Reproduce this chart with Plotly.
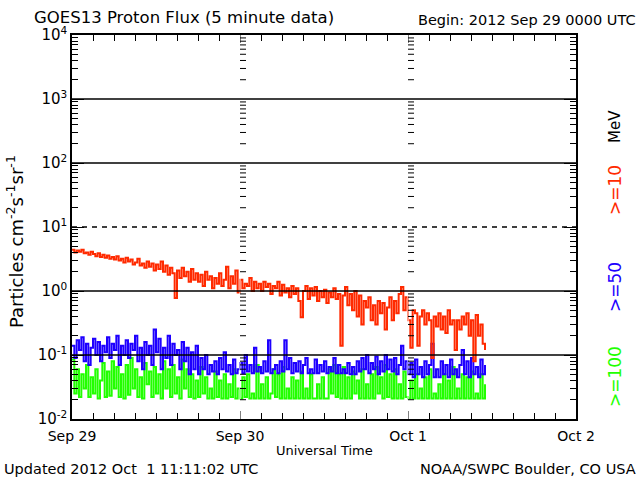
import pandas as pd
import plotly.graph_objects as go

# ---------------- data ----------------
start_time = "2012-09-29 00:00"
sample_step = "20min"

flux_ge10 = [
    4.4, 4.0, 4.3, 4.1, 4.4, 3.9, 4.0, 3.7, 4.1, 3.8, 3.5, 3.9,
    3.4, 3.7, 3.3, 3.6, 3.2, 3.4, 3.1, 3.5, 3.0, 3.2, 2.8, 3.3,
    2.9, 3.1, 2.6, 2.8, 3.2, 2.5, 2.7, 2.3, 2.9, 2.4, 2.7, 2.1,
    2.6, 2.2, 2.9, 2.0, 2.5, 1.8, 2.3, 1.9, 0.78, 2.1, 1.6, 2.3,
    1.7, 2.0, 1.4, 2.2, 1.5, 1.9, 1.4, 1.8, 1.2, 2.0, 1.5, 1.7,
    1.1, 1.6, 1.3, 1.9, 1.2, 1.5, 2.4, 1.1, 1.7, 1.3, 2.1, 0.95,
    1.5, 1.1, 1.3, 1.2, 1.6, 1.0, 1.4, 1.1, 1.3, 1.0, 1.4, 1.15,
    1.3, 0.9, 1.2, 1.1, 1.4, 0.85, 1.25, 0.95, 1.1, 0.8, 1.2, 0.9,
    1.1, 0.7, 0.39, 1.0, 1.2, 0.75, 1.1, 0.85, 1.15, 0.7, 1.0, 0.8,
    1.05, 0.65, 0.95, 0.8, 1.1, 0.75, 0.9, 0.14, 0.85, 1.15, 0.6, 0.9,
    0.5, 1.0, 0.4, 0.85, 0.3, 0.7, 0.55, 0.8, 0.35, 0.6, 0.3, 0.7,
    0.45, 0.65, 0.25, 0.55, 0.8, 0.35, 0.7, 0.45, 0.9, 1.15, 0.5, 0.8,
    0.35, 0.13, 0.5, 0.45, 0.14, 0.4, 0.5, 0.3, 0.45, 0.35, 0.09, 0.4,
    0.28, 0.45, 0.25, 0.4, 0.22, 0.5, 0.3, 0.35, 0.12, 0.35, 0.25, 0.4,
    0.3, 0.45, 0.2, 0.35, 0.08, 0.42, 0.2, 0.3, 0.15, 0.12,
]

flux_ge50 = [
    0.14, 0.09, 0.17, 0.12, 0.19, 0.08, 0.15, 0.07, 0.13, 0.18, 0.1, 0.16,
    0.08, 0.14, 0.11, 0.19, 0.09, 0.15, 0.12, 0.2, 0.07, 0.14, 0.1, 0.17,
    0.09, 0.15, 0.12, 0.2, 0.08, 0.13, 0.06, 0.16, 0.1, 0.14, 0.07, 0.25,
    0.11, 0.18, 0.06, 0.13, 0.09, 0.2, 0.07, 0.15, 0.1, 0.12, 0.06, 0.16,
    0.08, 0.13, 0.05, 0.11, 0.06, 0.14, 0.05, 0.09, 0.06, 0.1, 0.05, 0.07,
    0.055, 0.08, 0.05, 0.09, 0.06, 0.11, 0.055, 0.07, 0.05, 0.085, 0.052, 0.06,
    0.075, 0.052, 0.1, 0.055, 0.07, 0.052, 0.13, 0.055, 0.065, 0.052, 0.08, 0.055,
    0.17, 0.052, 0.06, 0.07, 0.052, 0.08, 0.055, 0.17, 0.06, 0.09, 0.052, 0.075,
    0.055, 0.08, 0.052, 0.07, 0.09, 0.052, 0.06, 0.052, 0.085, 0.052, 0.07, 0.055,
    0.08, 0.052, 0.065, 0.055, 0.09, 0.052, 0.07, 0.052, 0.06, 0.052, 0.075, 0.05,
    0.065, 0.05, 0.08, 0.055, 0.09, 0.06, 0.1, 0.052, 0.075, 0.06, 0.095, 0.05,
    0.08, 0.055, 0.1, 0.06, 0.085, 0.055, 0.09, 0.05, 0.07, 0.14, 0.06, 0.08,
    0.05, 0.075, 0.045, 0.085, 0.05, 0.065, 0.045, 0.08, 0.05, 0.07, 0.15, 0.045,
    0.06, 0.045, 0.08, 0.05, 0.07, 0.045, 0.085, 0.05, 0.06, 0.045, 0.07, 0.12,
    0.05, 0.08, 0.045, 0.09, 0.05, 0.065, 0.045, 0.085, 0.05, 0.07,
]

flux_ge100 = [
    0.085, 0.025, 0.06, 0.022, 0.05, 0.03, 0.07, 0.022, 0.045, 0.025, 0.06, 0.021,
    0.04, 0.075, 0.022, 0.055, 0.023, 0.08, 0.03, 0.065, 0.022, 0.05, 0.021, 0.07,
    0.024, 0.09, 0.03, 0.06, 0.022, 0.045, 0.021, 0.075, 0.035, 0.055, 0.022, 0.065,
    0.025, 0.05, 0.021, 0.08, 0.03, 0.06, 0.022, 0.07, 0.025, 0.045, 0.021, 0.085,
    0.03, 0.06, 0.022, 0.05, 0.021, 0.04, 0.022, 0.065, 0.025, 0.045, 0.021, 0.03,
    0.021, 0.055, 0.022, 0.04, 0.021, 0.05, 0.021, 0.035, 0.022, 0.06, 0.021, 0.03,
    0.021, 0.045, 0.022, 0.05, 0.021, 0.025, 0.021, 0.07, 0.021, 0.035, 0.021, 0.045,
    0.021, 0.025, 0.06, 0.022, 0.05, 0.021, 0.065, 0.021, 0.03, 0.021, 0.045, 0.021,
    0.04, 0.021, 0.055, 0.021, 0.03, 0.021, 0.05, 0.021, 0.021, 0.035, 0.021, 0.045,
    0.021, 0.021, 0.06, 0.025, 0.07, 0.022, 0.05, 0.021, 0.065, 0.021, 0.045, 0.021,
    0.055, 0.025, 0.04, 0.021, 0.06, 0.021, 0.035, 0.021, 0.05, 0.021, 0.065, 0.025,
    0.045, 0.021, 0.07, 0.022, 0.05, 0.021, 0.06, 0.021, 0.035, 0.021, 0.055, 0.022,
    0.021, 0.04, 0.021, 0.05, 0.021, 0.03, 0.021, 0.045, 0.021, 0.06, 0.021, 0.025,
    0.021, 0.035, 0.021, 0.05, 0.021, 0.04, 0.021, 0.065, 0.021, 0.03, 0.021, 0.05,
    0.021, 0.045, 0.021, 0.055, 0.021, 0.025, 0.021, 0.05, 0.021, 0.035,
]

day_ticks = ["2012-09-29", "2012-09-30", "2012-10-01", "2012-10-02"]
day_labels = ["Sep 29", "Sep 30", "Oct 1", "Oct 2"]
decades = [1e-2, 1e-1, 1e0, 1e1, 1e2, 1e3, 1e4]
decade_labels = ["10<sup>-2</sup>", "10<sup>-1</sup>", "10<sup>0</sup>", "10<sup>1</sup>",
                 "10<sup>2</sup>", "10<sup>3</sup>", "10<sup>4</sup>"]
solid_levels = [1e3, 1e2, 1e0, 1e-1]
dashed_levels = [1e1]

# ---------------- figure ----------------
times = pd.date_range(start_time, periods=len(flux_ge10), freq=sample_step)

RED, BLUE, GREEN = "#ff2a00", "#1e00ff", "#22ff00"
FONT = "DejaVu Sans"

fig = go.Figure()
for ys, col in [(flux_ge100, GREEN), (flux_ge50, BLUE), (flux_ge10, RED)]:
    fig.add_trace(go.Scatter(x=times, y=ys, mode="lines", line=dict(color=col, width=2, shape="hv"),
                             showlegend=False, hoverinfo="skip"))

minor_vals = [d * k for d in decades[:-1] for k in range(2, 10)]

L, R, T, B = 72, 64, 35, 61
W, H = 640, 480
pw, ph = W - L - R, H - T - B


def px(xp):
    return (xp - L) / pw


def py(yp):
    return (H - B - yp) / ph


fig.update_layout(
    width=W, height=H,
    margin=dict(l=L, r=R, t=T, b=B, autoexpand=False),
    paper_bgcolor="white", plot_bgcolor="white",
    font=dict(family=FONT, color="black", size=13),
    xaxis=dict(
        range=[day_ticks[0], day_ticks[-1]],
        tickvals=day_ticks, ticktext=day_labels,
        ticks="inside", ticklen=8, tickwidth=1, tickcolor="black",
        minor=dict(dtick=3 * 3600 * 1000, ticks="inside", ticklen=6, tickcolor="black", tickwidth=1, showgrid=False),
        showgrid=False, zeroline=False,
        showline=True, linecolor="black", linewidth=1.5, mirror="ticks",
        tickfont=dict(size=14), ticklabelstandoff=3,
    ),
    yaxis=dict(
        type="log", range=[-2, 4],
        tickvals=decades, ticktext=decade_labels,
        ticks="inside", ticklen=12, tickwidth=1, tickcolor="black",
        minor=dict(tickvals=minor_vals, ticks="inside", ticklen=6, tickcolor="black", tickwidth=1, showgrid=False),
        showgrid=False, zeroline=False,
        showline=True, linecolor="black", linewidth=1.5, mirror="ticks",
        tickfont=dict(size=15),
    ),
)

shapes = []
# white separators at day boundaries
for d in day_ticks[1:3]:
    shapes.append(dict(type="line", xref="x", yref="paper", x0=d, x1=d, y0=0, y1=1,
                       line=dict(color="white", width=1), layer="above"))
for lv in solid_levels:
    shapes.append(dict(type="line", xref="paper", yref="y", x0=0, x1=1, y0=lv, y1=lv,
                       line=dict(color="black", width=1.3), layer="above"))
for lv in dashed_levels:
    shapes.append(dict(type="line", xref="paper", yref="y", x0=0, x1=1, y0=lv, y1=lv,
                       line=dict(color="black", width=1.3, dash="5px,5px"), layer="above"))
# minor tick ladders at the day boundaries
for d in day_ticks[1:3]:
    for mv in minor_vals:
        shapes.append(dict(type="line", xref="x", yref="y", xsizemode="pixel", xanchor=d,
                           x0=0, x1=6, y0=mv, y1=mv, line=dict(color="black", width=1), layer="above"))
fig.update_layout(shapes=shapes)

ann = [
    dict(text="GOES13 Proton Flux (5 minute data)", x=px(32), y=py(17), xanchor="left", yanchor="middle",
         font=dict(size=16.5)),
    dict(text="Begin: 2012 Sep 29 0000 UTC", x=px(638), y=py(20), xanchor="right", yanchor="middle",
         font=dict(size=14.5)),
    dict(text="Universal Time", x=px(324), y=py(450), xanchor="center", yanchor="middle", font=dict(size=13)),
    dict(text="Updated 2012 Oct  1 11:11:02 UTC", x=px(2), y=py(469), xanchor="left", yanchor="middle",
         font=dict(size=14.5)),
    dict(text="NOAA/SWPC Boulder, CO USA", x=px(638), y=py(469), xanchor="right", yanchor="middle",
         font=dict(size=14.5)),
    dict(text="Particles cm<sup>-2</sup>s<sup>-1</sup>sr<sup>-1</sup>", x=px(15), y=py(242), textangle=-90,
         xanchor="center", yanchor="middle", font=dict(size=18)),
    dict(text="MeV", x=px(615), y=py(127), textangle=-90, xanchor="center", yanchor="middle",
         font=dict(size=15, color="black")),
    dict(text="&gt;=10", x=px(615), y=py(190), textangle=-90, xanchor="center", yanchor="middle",
         font=dict(size=17, color=RED)),
    dict(text="&gt;=50", x=px(615), y=py(287), textangle=-90, xanchor="center", yanchor="middle",
         font=dict(size=17, color=BLUE)),
    dict(text="&gt;=100", x=px(615), y=py(377), textangle=-90, xanchor="center", yanchor="middle",
         font=dict(size=17, color=GREEN)),
]
for a in ann:
    a.update(xref="paper", yref="paper", showarrow=False)
fig.update_layout(annotations=ann)

fig.write_html("out.html", config={"displayModeBar": False},
               post_script="document.body.style.margin='0px';document.body.style.overflow='hidden';")
